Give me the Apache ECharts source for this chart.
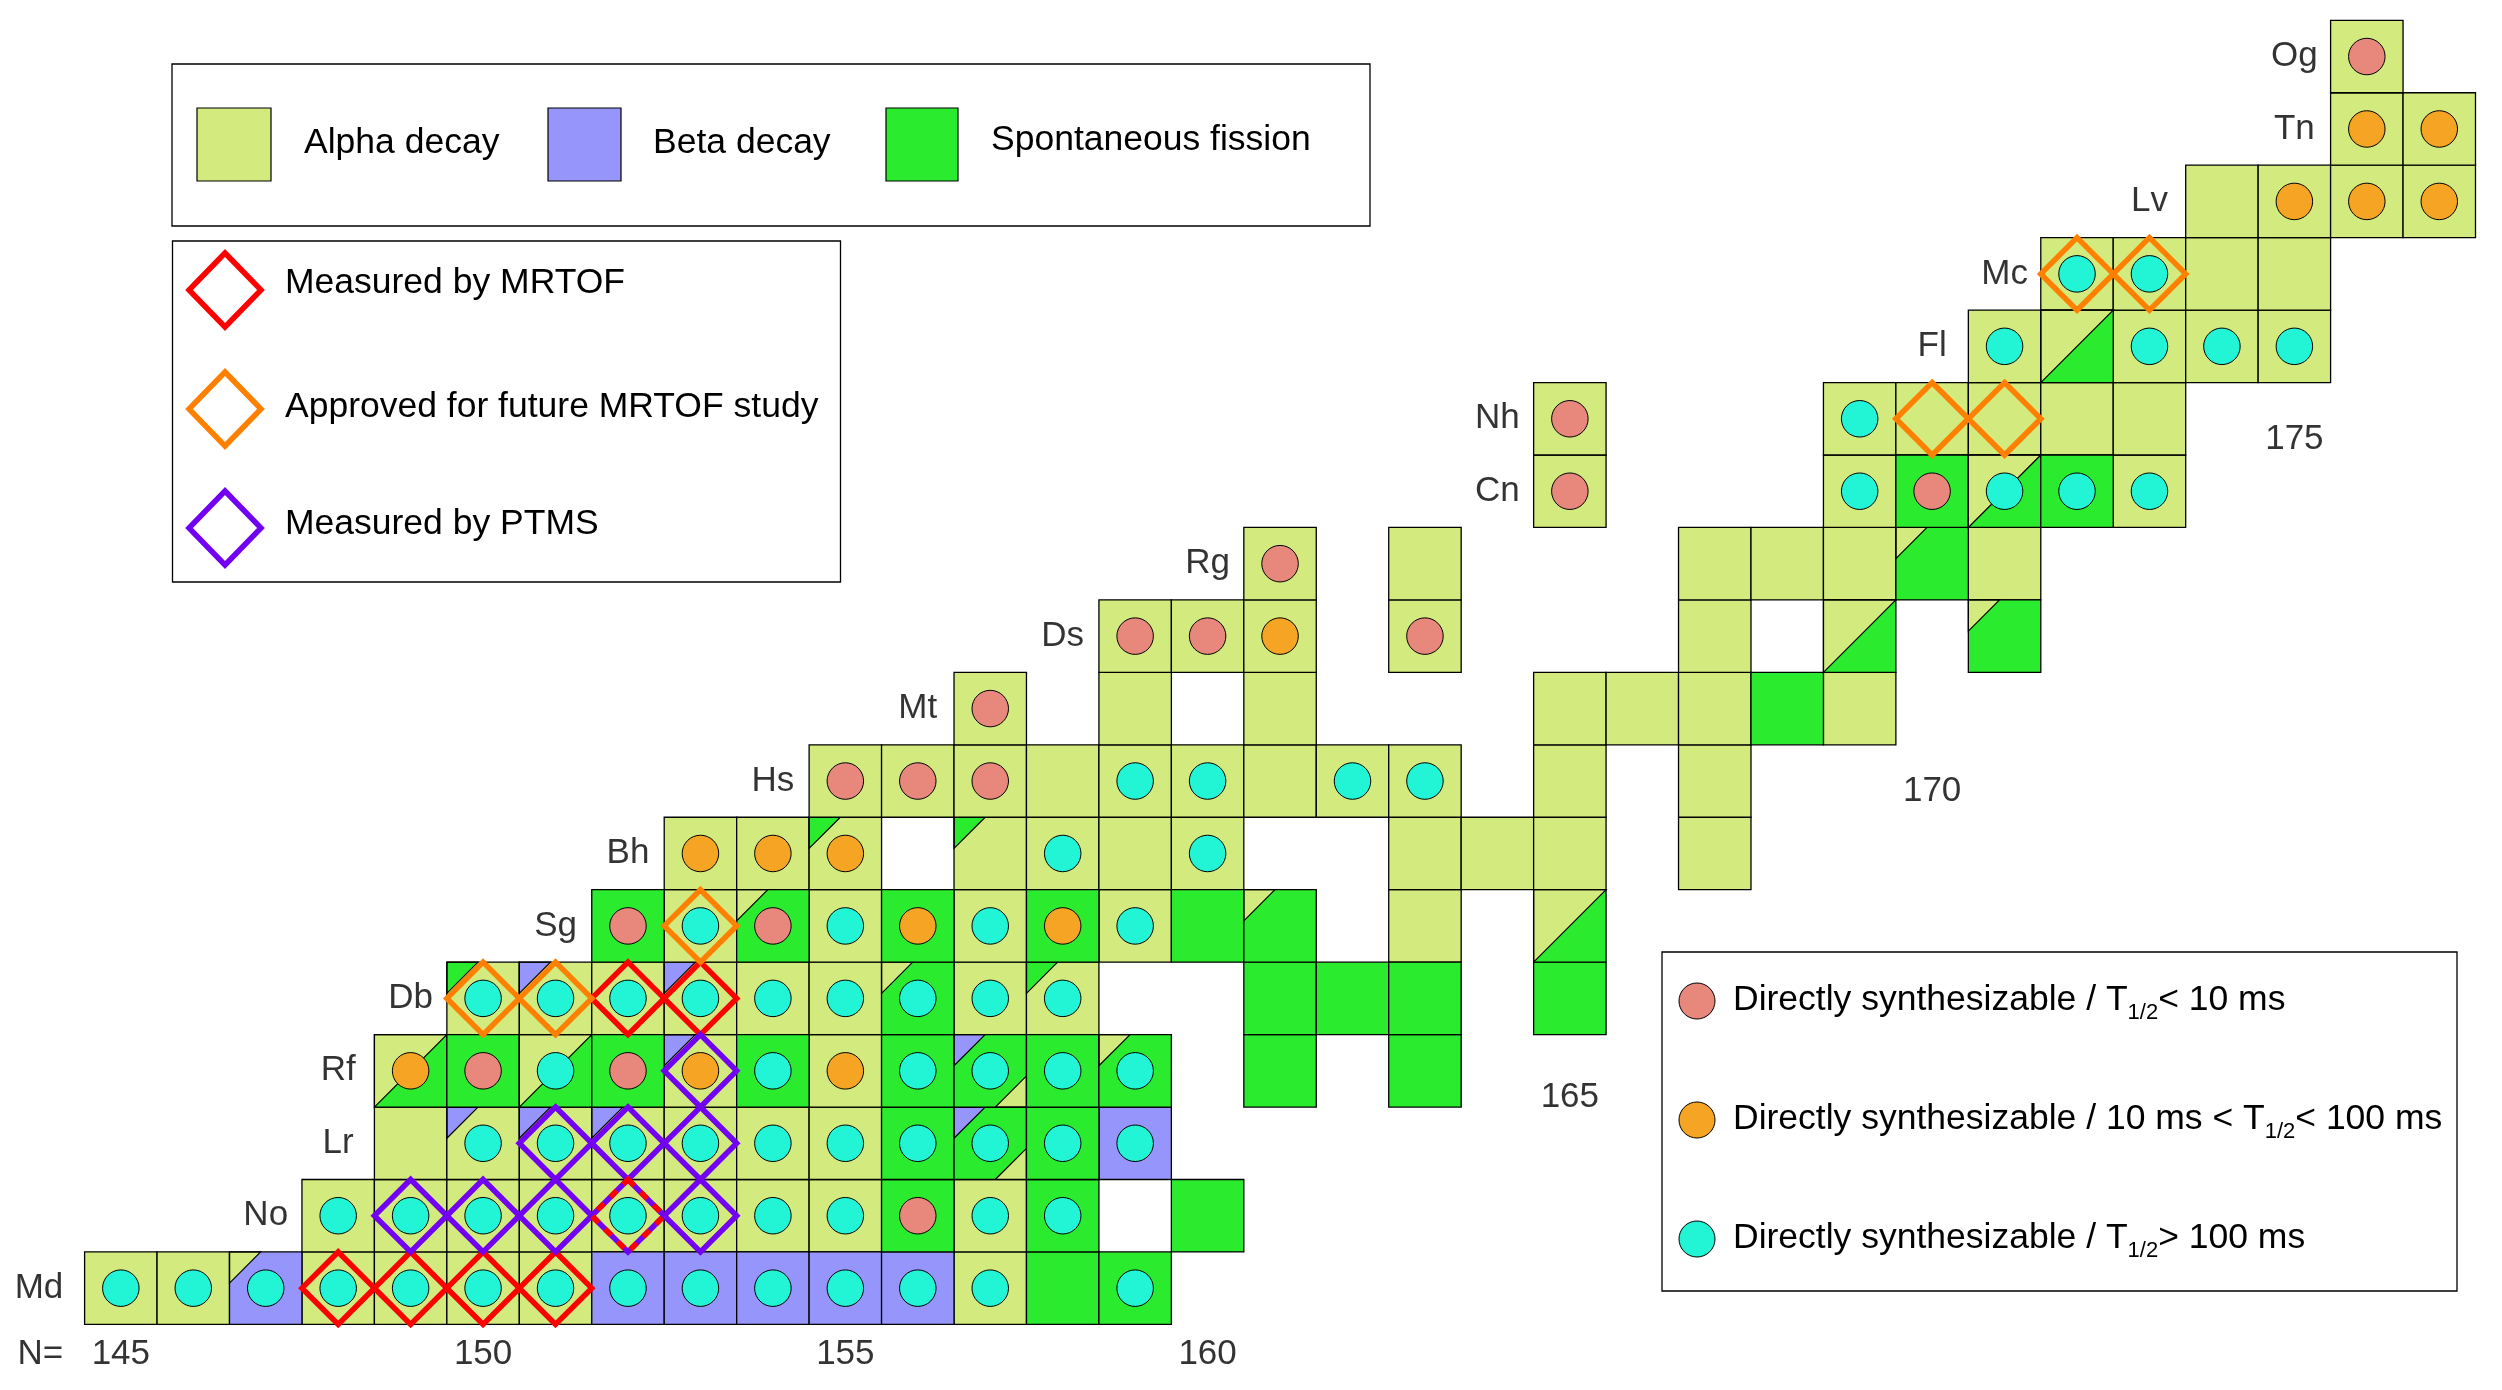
<!DOCTYPE html>
<html><head><meta charset="utf-8">
<script src="https://cdn.jsdelivr.net/npm/echarts@6/dist/echarts.min.js"></script>
<style>html,body{margin:0;padding:0;background:#fff}#main{width:2502px;height:1390px}</style>
</head><body><div id="main"></div><script>
// ---------------- DATA ----------------
// Element symbols (Z = 101 ... 118) and where their row label sits (neutron number N)
const elementSymbols = ['Md','No','Lr','Rf','Db','Sg','Bh','Hs','Mt','Ds','Rg','Cn','Nh','Fl','Mc','Lv','Tn','Og'];
const elementZ       = [101,102,103,104,105,106,107,108,109,110,111,112,113,114,115,116,117,118];
const elementLabelN  = [143.87,147,148,148,149,151,152,154,156,158,160,164,164,170,171,173,175,175];

// Neutron-number labels
const nTickText = ['N=','145','150','155','160','165','170','175'];
const nTickN    = [143.89,145,150,155,160,165,170,175];
const nTickZ    = [100.08,100.08,100.08,100.08,100.08,103.64,107.86,112.71];

// Main decay mode of each nuclide [N, Z]
const alphaCells = [
 [145,101],[146,101],[148,101],[149,101],[150,101],[151,101],[157,101],
 [148,102],[149,102],[150,102],[151,102],[152,102],[153,102],[154,102],[155,102],[157,102],
 [149,103],[150,103],[151,103],[152,103],[153,103],[154,103],[155,103],
 [153,104],[155,104],
 [150,105],[151,105],[152,105],[153,105],[154,105],[155,105],[157,105],[158,105],
 [153,106],[155,106],[157,106],[159,106],[163,106],
 [153,107],[154,107],[155,107],[157,107],[158,107],[159,107],[160,107],[163,107],[164,107],[165,107],[167,107],
 [155,108],[156,108],[157,108],[158,108],[159,108],[160,108],[161,108],[162,108],[163,108],[165,108],[167,108],
 [157,109],[159,109],[161,109],[165,109],[166,109],[167,109],[169,109],
 [159,110],[160,110],[161,110],[163,110],[167,110],
 [161,111],[163,111],[167,111],[168,111],[169,111],[171,111],
 [165,112],[169,112],[173,112],
 [165,113],[169,113],[170,113],[171,113],[172,113],[173,113],
 [171,114],[173,114],[174,114],[175,114],
 [172,115],[173,115],[174,115],[175,115],
 [174,116],[175,116],[176,116],[177,116],
 [176,117],[177,117],
 [176,118]
];
const betaCells = [[147,101],[152,101],[153,101],[154,101],[155,101],[156,101],[159,103]];
const fissionCells = [
 [158,101],[159,101],
 [156,102],[158,102],[160,102],
 [156,103],[157,103],[158,103],
 [149,104],[150,104],[151,104],[152,104],[154,104],[156,104],[157,104],[158,104],[159,104],[161,104],[163,104],
 [156,105],[161,105],[162,105],[163,105],[165,105],
 [152,106],[154,106],[156,106],[158,106],[160,106],[161,106],[165,106],
 [168,109],
 [169,110],[171,110],
 [170,111],
 [170,112],[171,112],[172,112],
 [172,114]
];
// Secondary decay branches: small corner triangles [N, Z, mode]
const upperCornerBranch = [
 [147,101,'alpha'],[150,103,'beta'],[151,103,'beta'],[152,103,'beta'],[157,103,'beta'],
 [153,104,'beta'],[157,104,'beta'],[159,104,'alpha'],
 [150,105,'fission'],[151,105,'beta'],[153,105,'beta'],[156,105,'alpha'],[158,105,'fission'],
 [154,106,'alpha'],[161,106,'alpha'],
 [155,107,'fission'],[157,107,'fission'],
 [171,110,'alpha'],[170,111,'alpha']
];
const lowerCornerBranch = [[157,103,'alpha'],[157,104,'alpha']];
// Nuclides split half alpha / half fission [N, Z]
const halfAlphaFission = [[149,104],[151,104],[165,106],[169,110],[171,112],[172,114]];

// Directly synthesizable nuclides by half-life class [N, Z]
const shortLived = [[156,102],[150,104],[152,104],[152,106],[154,106],[155,108],[156,108],[157,108],
 [157,109],[159,110],[160,110],[163,110],[161,111],[165,112],[165,113],[170,112],[176,118]];
const midLived = [[149,104],[153,104],[155,104],[156,106],[158,106],[153,107],[154,107],[155,107],
 [161,110],[175,116],[176,116],[177,116],[176,117],[177,117]];
const longLived = [
 [145,101],[146,101],[147,101],[148,101],[149,101],[150,101],[151,101],[152,101],[153,101],[154,101],[155,101],[156,101],[157,101],[159,101],
 [148,102],[149,102],[150,102],[151,102],[152,102],[153,102],[154,102],[155,102],[157,102],[158,102],
 [150,103],[151,103],[152,103],[153,103],[154,103],[155,103],[156,103],[157,103],[158,103],[159,103],
 [151,104],[154,104],[156,104],[157,104],[158,104],[159,104],
 [150,105],[151,105],[152,105],[153,105],[154,105],[155,105],[156,105],[157,105],[158,105],
 [153,106],[155,106],[157,106],[159,106],
 [158,107],[160,107],
 [159,108],[160,108],[162,108],[163,108],
 [169,112],[171,112],[172,112],[173,112],
 [169,113],
 [171,114],[173,114],[174,114],[175,114],
 [172,115],[173,115]
];

// Mass-measurement status [N, Z]
const measuredMRTOF = [[148,101],[149,101],[150,101],[151,101],[152,105],[153,105]];
const approvedMRTOF = [[150,105],[151,105],[153,106],[170,113],[171,113],[172,115],[173,115]];
const measuredPTMS  = [[149,102],[150,102],[151,102],[153,102],[151,103],[152,103],[153,103],[153,104]];
const measuredBoth  = [[152,102]];

// ---------------- STYLE ----------------
const FONT = '"Liberation Sans", Arial, sans-serif';
const MODE_COLOR = {alpha:'#d3eb7e', beta:'#9595fb', fission:'#2beb2e'};
const CIRCLE_COLOR = {short:'#e8877b', mid:'#f5a523', long:'#22f5d6'};
const DIAMOND_COLOR = {mrtof:'#ff0000', approved:'#ff8000', ptms:'#7200f2'};
const CORNER = 0.43;
const DIAMOND_WIDTH = 5.5;

// ---------------- TABLES ----------------
const key = (n, z) => n + '_' + z;
const cellTable = [];
[['alpha', alphaCells], ['beta', betaCells], ['fission', fissionCells]].forEach(([m, arr]) =>
  arr.forEach(([n, z]) => cellTable.push({n, z, mode: m})));
const upperMap = {}, lowerMap = {}, halfSet = {};
upperCornerBranch.forEach(([n, z, m]) => upperMap[key(n, z)] = m);
lowerCornerBranch.forEach(([n, z, m]) => lowerMap[key(n, z)] = m);
halfAlphaFission.forEach(([n, z]) => halfSet[key(n, z)] = true);

const circleTable = [];
[['short', shortLived], ['mid', midLived], ['long', longLived]].forEach(([k, arr]) =>
  arr.forEach(([n, z]) => circleTable.push({n, z, kind: k})));

const diamondTable = [];
[['mrtof', measuredMRTOF], ['approved', approvedMRTOF], ['ptms', measuredPTMS], ['both', measuredBoth]].forEach(([k, arr]) =>
  arr.forEach(([n, z]) => diamondTable.push({n, z, kind: k})));

// ---------------- RENDERERS ----------------
function renderCell(params, api) {
  const c = cellTable[params.dataIndex];
  const a = api.coord([c.n - 0.5, c.z + 0.5]);
  const b = api.coord([c.n + 0.5, c.z - 0.5]);
  const x = a[0], y = a[1], w = b[0] - a[0], h = b[1] - a[1];
  const k = key(c.n, c.z);
  const ch = [{type: 'rect', shape: {x, y, width: w, height: h}, style: {fill: MODE_COLOR[c.mode]}}];
  if (halfSet[k]) ch.push({type: 'polygon', shape: {points: [[x, y], [x + w, y], [x, y + h]]},
      style: {fill: MODE_COLOR.alpha, stroke: '#000', lineWidth: 1.2}});
  if (upperMap[k]) ch.push({type: 'polygon', shape: {points: [[x, y], [x + CORNER * w, y], [x, y + CORNER * h]]},
      style: {fill: MODE_COLOR[upperMap[k]], stroke: '#000', lineWidth: 1.2}});
  if (lowerMap[k]) ch.push({type: 'polygon', shape: {points: [[x + w, y + h], [x + w - CORNER * w, y + h], [x + w, y + h - CORNER * h]]},
      style: {fill: MODE_COLOR[lowerMap[k]], stroke: '#000', lineWidth: 1.2}});
  ch.push({type: 'rect', shape: {x, y, width: w, height: h}, style: {fill: 'none', stroke: '#000', lineWidth: 1.3}});
  return {type: 'group', children: ch};
}
function renderCircle(params, api) {
  const c = circleTable[params.dataIndex];
  const p = api.coord([c.n, c.z]);
  const s = api.size([1, 1]);
  return {type: 'circle', shape: {cx: p[0], cy: p[1], r: s[0] * 0.252},
    style: {fill: CIRCLE_COLOR[c.kind], stroke: '#000', lineWidth: 1}};
}
function renderDiamond(params, api) {
  const d = diamondTable[params.dataIndex];
  const p = api.coord([d.n, d.z]);
  const s = api.size([1, 1]);
  const hw = s[0] / 2, hh = s[1] / 2;
  const pts = [[p[0], p[1] - hh], [p[0] + hw, p[1]], [p[0], p[1] + hh], [p[0] - hw, p[1]]];
  if (d.kind === 'both') {
    return {type: 'group', children: [
      {type: 'polygon', shape: {points: pts}, style: {fill: 'none', stroke: DIAMOND_COLOR.ptms, lineWidth: DIAMOND_WIDTH, lineJoin: 'miter'}},
      {type: 'polygon', shape: {points: pts}, style: {fill: 'none', stroke: DIAMOND_COLOR.mrtof, lineWidth: DIAMOND_WIDTH, lineDash: [9, 9], lineJoin: 'miter'}}
    ]};
  }
  return {type: 'polygon', shape: {points: pts},
    style: {fill: 'none', stroke: DIAMOND_COLOR[d.kind], lineWidth: DIAMOND_WIDTH, lineJoin: 'miter'}};
}

// ---------------- LEGENDS (layout) ----------------
function txt(x, y, text) {
  return {type: 'text', x, y, style: {text, font: '35.5px ' + FONT, fill: '#000',
    align: 'left', verticalAlign: 'middle', textAlign: 'left', textVerticalAlign: 'middle'}};
}
function dia(cx, cy, color) {
  const hw = 36, hh = 37;
  return {type: 'polygon', shape: {points: [[cx, cy - hh], [cx + hw, cy], [cx, cy + hh], [cx - hw, cy]]},
    style: {fill: 'none', stroke: color, lineWidth: DIAMOND_WIDTH, lineJoin: 'miter'}};
}
function subText(x, y, parts) {
  return {type: 'text', x, y, style: {
    text: parts, fill: '#000', align: 'left', verticalAlign: 'middle', textAlign: 'left', textVerticalAlign: 'middle',
    rich: {
      m: {fontSize: 35.5, fontFamily: FONT, lineHeight: 48, fill: '#000', verticalAlign: 'middle'},
      s: {fontSize: 22, fontFamily: FONT, lineHeight: 22, fill: '#000', verticalAlign: 'bottom'}
    }}};
}
const graphics = [
  {type: 'rect', shape: {x: 172, y: 64, width: 1198, height: 162}, style: {fill: '#fff', stroke: '#000', lineWidth: 1.3}},
  {type: 'rect', shape: {x: 197, y: 108, width: 74, height: 73}, style: {fill: MODE_COLOR.alpha, stroke: '#000', lineWidth: 1.2}},
  txt(304, 143, 'Alpha decay'),
  {type: 'rect', shape: {x: 548, y: 108, width: 73, height: 73}, style: {fill: MODE_COLOR.beta, stroke: '#000', lineWidth: 1.2}},
  txt(653, 143, 'Beta decay'),
  {type: 'rect', shape: {x: 886, y: 108, width: 72, height: 73}, style: {fill: MODE_COLOR.fission, stroke: '#000', lineWidth: 1.2}},
  txt(991, 140, 'Spontaneous fission'),

  {type: 'rect', shape: {x: 172.5, y: 241, width: 668, height: 341}, style: {fill: '#fff', stroke: '#000', lineWidth: 1.3}},
  dia(225, 290, DIAMOND_COLOR.mrtof), txt(285, 283, 'Measured by MRTOF'),
  dia(225, 409, DIAMOND_COLOR.approved), txt(285, 407, 'Approved for future MRTOF study'),
  dia(225, 528, DIAMOND_COLOR.ptms), txt(285, 524, 'Measured by PTMS'),

  {type: 'rect', shape: {x: 1662, y: 952, width: 795, height: 339}, style: {fill: '#fff', stroke: '#000', lineWidth: 1.3}},
  {type: 'circle', shape: {cx: 1697, cy: 1001, r: 18}, style: {fill: CIRCLE_COLOR.short, stroke: '#000', lineWidth: 1}},
  subText(1733, 1000, '{m|Directly synthesizable / T}{s|1/2}{m|< 10 ms}'),
  {type: 'circle', shape: {cx: 1697, cy: 1120, r: 18}, style: {fill: CIRCLE_COLOR.mid, stroke: '#000', lineWidth: 1}},
  subText(1733, 1119, '{m|Directly synthesizable / 10 ms < T}{s|1/2}{m|< 100 ms}'),
  {type: 'circle', shape: {cx: 1697, cy: 1239, r: 18}, style: {fill: CIRCLE_COLOR.long, stroke: '#000', lineWidth: 1}},
  subText(1733, 1238, '{m|Directly synthesizable / T}{s|1/2}{m|> 100 ms}')
];

// ---------------- CHART ----------------
const chart = echarts.init(document.getElementById('main'), null, {renderer: 'canvas'});
const labelStyle = {show: true, position: 'inside', formatter: '{b}', fontSize: 35, fontFamily: FONT, color: '#000', textBorderWidth: 0};
chart.setOption({
  animation: false,
  backgroundColor: '#fff',
  grid: {left: 84.6, right: 26.5, top: 20.3, bottom: 65.6},
  xAxis: {type: 'value', min: 144.5, max: 177.5, show: false},
  yAxis: {type: 'value', min: 100.5, max: 118.5, show: false},
  graphic: graphics,
  series: [
    {type: 'custom', name: 'cells', renderItem: renderCell, data: cellTable.map(c => [c.n, c.z]), encode: {x: 0, y: 1}, silent: true},
    {type: 'custom', name: 'circles', renderItem: renderCircle, data: circleTable.map(c => [c.n, c.z]), encode: {x: 0, y: 1}, silent: true},
    {type: 'custom', name: 'diamonds', renderItem: renderDiamond, data: diamondTable.map(c => [c.n, c.z]), encode: {x: 0, y: 1}, silent: true},
    {type: 'scatter', name: 'elements', clip: false, silent: true, symbolSize: 1, itemStyle: {color: 'rgba(0,0,0,0)'},
      data: elementSymbols.map((s, i) => ({name: s, value: [elementLabelN[i], elementZ[i]]})), label: labelStyle},
    {type: 'scatter', name: 'ticks', clip: false, silent: true, symbolSize: 1, itemStyle: {color: 'rgba(0,0,0,0)'},
      data: nTickText.map((s, i) => ({name: s, value: [nTickN[i], nTickZ[i]]})), label: labelStyle}
  ]
});
</script></body></html>
